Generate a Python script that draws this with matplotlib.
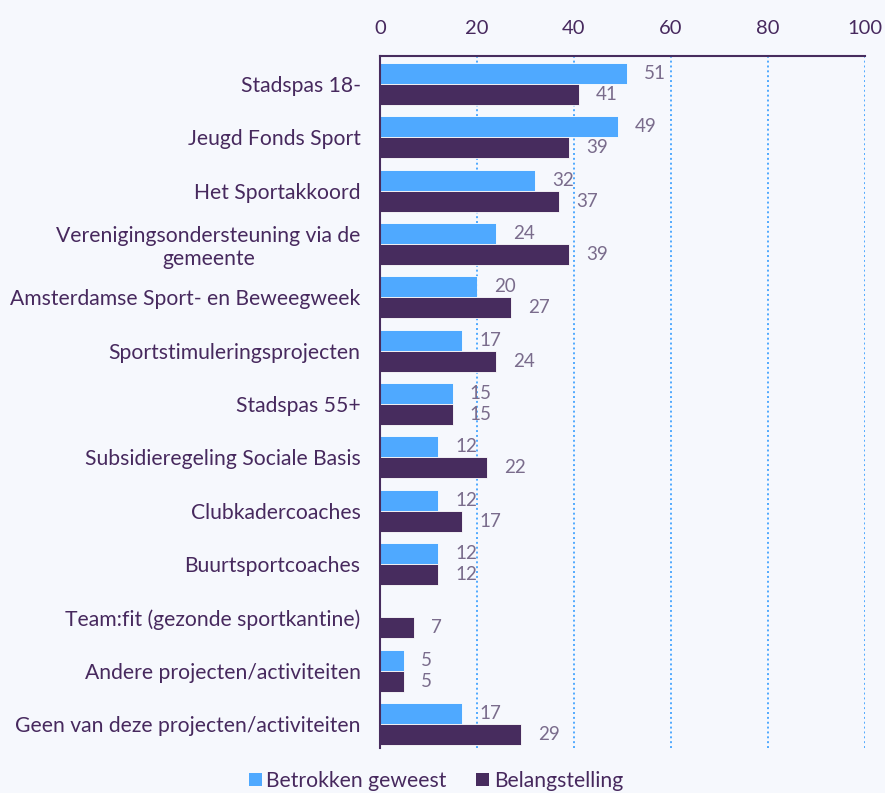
import matplotlib
matplotlib.use("Agg")
import matplotlib.pyplot as plt
import numpy as np
from matplotlib.patches import Patch

categories = [
    "Stadspas 18-",
    "Jeugd Fonds Sport",
    "Het Sportakkoord",
    "Verenigingsondersteuning via de\ngemeente",
    "Amsterdamse Sport- en Beweegweek",
    "Sportstimuleringsprojecten",
    "Stadspas 55+",
    "Subsidieregeling Sociale Basis",
    "Clubkadercoaches",
    "Buurtsportcoaches",
    "Team:fit (gezonde sportkantine)",
    "Andere projecten/activiteiten",
    "Geen van deze projecten/activiteiten",
]
betrokken = [51, 49, 32, 24, 20, 17, 15, 12, 12, 12, None, 5, 17]
belang = [41, 39, 37, 39, 27, 24, 15, 22, 17, 12, 7, 5, 29]
series_names = ["Betrokken geweest", "Belangstelling"]
xticks = [0, 20, 40, 60, 80, 100]

BLUE = "#4FA9FF"
PURPLE = "#472C5E"
TEXT = "#47295E"
VAL = "#7A6C8C"
BG = "#F6F8FD"

plt.rcParams['font.family'] = ['Lato', 'DejaVu Sans']

fig = plt.figure(figsize=(8.85, 7.93), dpi=100, facecolor=BG)
ax = fig.add_axes([380/885, 1-748/793, 485/885, (748-56)/793])
ax.set_facecolor(BG)

y = np.arange(len(categories))
h = 0.395
b_vals = [v if v is not None else 0 for v in betrokken]
ax.barh(y - h/2, b_vals, height=h, color=BLUE, edgecolor="white", linewidth=0.6, zorder=3)
ax.barh(y + h/2, belang, height=h, color=PURPLE, edgecolor="white", linewidth=0.6, zorder=3)

off = 3.5
for i, v in enumerate(betrokken):
    if v is not None:
        ax.text(v + off, i - h/2, str(v), va="center", ha="left", fontsize=13.5,
                color=VAL, zorder=4)
for i, v in enumerate(belang):
    ax.text(v + off, i + h/2, str(v), va="center", ha="left", fontsize=13.5,
            color=VAL, zorder=4)

ax.set_xlim(0, 100)
ax.set_ylim(12.45, -0.525)
ax.set_yticks(y)
ax.set_yticklabels(categories, fontsize=15.2, color=TEXT, multialignment="center")
ax.set_xticks(xticks)
ax.set_xticklabels([str(t) for t in xticks], fontsize=14.5, color=TEXT)
ax.xaxis.tick_top()
ax.tick_params(axis="x", length=0, pad=14)
ax.tick_params(axis="y", length=0, pad=14)

for t in xticks[1:]:
    ax.axvline(t, color=BLUE, linestyle=(0, (1, 1.5)), linewidth=1.4, zorder=1)

for s in ["right", "bottom"]:
    ax.spines[s].set_visible(False)
ax.spines["left"].set_color(PURPLE)
ax.spines["left"].set_linewidth(1.5)
ax.spines["left"].set_zorder(5)
ax.spines["top"].set_color(PURPLE)
ax.spines["top"].set_linewidth(1.5)

handles = [Patch(facecolor=BLUE, label=series_names[0]),
           Patch(facecolor=PURPLE, label=series_names[1])]
fig.legend(handles=handles, loc="center", bbox_to_anchor=(436/885, 1-781/793), ncol=2,
           frameon=False, fontsize=15.2, handlelength=0.62, handleheight=0.62,
           handletextpad=0.2, columnspacing=1.4, labelcolor=TEXT)

fig.savefig("out.png", dpi=100, facecolor=BG)
